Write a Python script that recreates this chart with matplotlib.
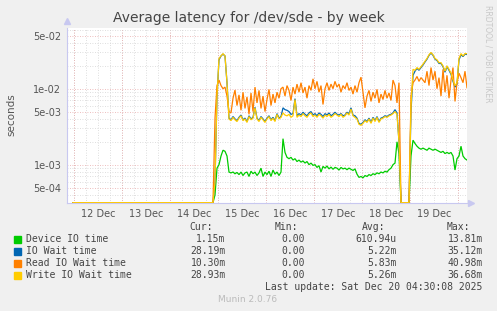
import numpy as np
import pandas as pd
import matplotlib
matplotlib.use('Agg')
from matplotlib import pyplot as plt
import matplotlib.dates as mdates

nan = np.nan

# hourly samples from 2025-12-11 20:30 to 2025-12-20 04:30, values in ms
start = pd.Timestamp('2025-12-11 20:30')
times = pd.date_range(start, periods=201, freq='h')

device_1 = [0.0, 0.4, 0.9, 1.0, 1.3, 1.55, 1.5, 1.3, 0.8, 0.78, 0.8, 0.76, 0.79, 0.74, 0.8, 0.72,
            0.78, 0.8, 0.7, 0.82, 0.76, 0.8, 0.72, 0.78, 0.9, 0.7, 0.8, 0.74, 0.82, 0.7, 0.85, 0.75,
            0.8, 0.72, 0.8, 2.2, 1.45, 1.25, 1.2, 1.25, 1.15, 1.2, 1.1, 1.15, 1.08, 1.12, 1.05, 1.1,
            1.0, 1.05, 0.98, 1.0, 0.92, 0.97, 0.8, 0.95, 0.9, 0.96, 0.88, 0.93, 0.87, 0.92, 0.9, 0.85,
            0.92, 0.88, 0.9, 0.86, 0.9, 0.87, 0.84, 0.88, 0.75, 0.68, 0.7, 0.67, 0.72, 0.7, 0.74, 0.72,
            0.76, 0.74, 0.78, 0.76, 0.8, 0.78, 0.82, 0.8, 0.86, 0.9, 1.0, 1.05, 2.0, 1.4]
iowait_1 = [0.0, 0.6, 8, 24, 27, 28.5, 27, 12, 4.1, 3.9, 4.3, 4.0, 3.8, 4.2, 4.5, 3.9,
            4.1, 3.7, 4.4, 4.0, 4.2, 5.7, 4.1, 3.8, 4.3, 4.0, 3.7, 4.1, 4.4, 3.9, 4.2, 3.8,
            4.7, 4.1, 4.3, 5.6, 5.3, 5.2, 5.0, 4.6, 4.7, 7.4, 4.4, 4.7, 4.5, 4.9, 4.6, 4.4,
            4.8, 5.0, 4.5, 4.7, 4.4, 4.8, 4.6, 4.3, 4.7, 4.5, 4.8, 4.4, 4.6, 4.9, 4.6, 4.5,
            4.7, 4.4, 4.5, 4.9, 4.7, 5.6, 4.5, 4.4, 4.1, 3.5, 3.4, 3.6, 3.9, 3.7, 4.1, 3.6,
            4.2, 3.8, 4.3, 3.7, 4.1, 4.2, 4.4, 4.3, 4.5, 4.6, 4.8, 5.3, 4.8, 2.0]
read_1 = [0.0, 4.1, 11, 13, 11, 10, 10.5, 8, 5, 4.8, 7.5, 9.6, 6, 8.3, 5.2, 9,
          5.5, 7.8, 4.6, 8.8, 5, 10.5, 6.5, 9.5, 5.5, 8, 5, 7.2, 9.8, 6, 8.5, 6.5,
          9, 7.5, 10, 10.5, 8, 11, 9.5, 7, 10.5, 8.5, 11.5, 9, 12, 8.8, 10.5, 7.5,
          11, 9.5, 13.5, 10, 12.5, 9, 11, 6.2, 10, 12, 9.5, 11.5, 10, 12.5, 10.5, 11.5,
          9, 11, 10, 12, 9.5, 10.5, 8.5, 11, 9, 12, 14.2, 9, 5.6, 8, 9.5, 6.8,
          9, 7.5, 9.8, 6.5, 8.5, 7.2, 9.5, 7.5, 8.8, 7, 13, 11, 6.5, 12]
write_1 = [0.0, 0.6, 8, 25, 27, 29, 27, 12, 4.0, 3.8, 4.2, 3.9, 3.7, 4.1, 4.4, 3.8,
           4.0, 3.6, 4.3, 3.9, 4.1, 5.6, 4.0, 3.7, 4.2, 3.9, 3.6, 4.0, 4.3, 3.8, 4.1, 3.7,
           4.6, 4.0, 4.2, 4.8, 4.5, 4.4, 4.6, 4.2, 4.4, 7.2, 4.2, 4.5, 4.3, 4.7, 4.4, 4.2,
           4.6, 4.8, 4.3, 4.5, 4.2, 4.6, 4.4, 4.1, 4.5, 4.3, 4.6, 4.2, 4.4, 4.7, 4.5, 4.3,
           4.6, 4.2, 4.4, 4.8, 4.5, 5.4, 4.4, 4.2, 4.0, 3.4, 3.3, 3.5, 3.8, 3.6, 4.0, 3.5,
           4.1, 3.7, 4.2, 3.6, 4.0, 4.1, 4.3, 4.2, 4.4, 4.5, 4.7, 5.0, 4.6, 2.0]

device_2 = [1.3, 2.1, 1.9, 1.75, 1.65, 1.6, 1.65, 1.6, 1.55, 1.65, 1.6, 1.55, 1.6, 1.55, 1.5,
            1.45, 1.5, 1.4, 1.45, 1.4, 1.45, 1.3, 0.85, 1.2, 1.3, 1.75, 1.3, 1.2, 1.15]
iowait_2 = [5, 15, 17, 18.5, 17.5, 19, 20.5, 22.5, 24.5, 27.5, 29.5, 27.5, 24.5, 23.5, 21.5,
            21.5, 19.5, 16.5, 19.5, 17.5, 15.5, 12.5, 10.5, 11.5, 24, 28, 26.5, 28.5, 28.19]
read_2 = [8, 12, 13, 14.5, 12.5, 14, 13, 12, 17, 11, 19, 13, 17, 10, 14,
          8, 18, 9, 15, 7.5, 13, 19, 6.8, 12, 16, 14, 12, 17, 10.3]
write_2 = [6, 18, 17.5, 19, 18, 19.5, 21, 23, 25, 28, 30, 28, 25, 24, 22,
           22, 20, 17, 20, 18, 16, 13, 11, 12, 25, 29, 27, 29, 28.93]

lead = [nan] * 3 + [0.0] * 70
gap = [0.0] * 5

names = ['Device IO time', 'IO Wait time', 'Read IO Wait time', 'Write IO Wait time']
colors = ['#00CC00', '#0066B3', '#FF8000', '#FFCC00']
series = [lead + device_1 + gap + device_2,
          lead + iowait_1 + gap + iowait_2,
          lead + read_1 + gap + read_2,
          lead + write_1 + gap + write_2]

cur = ['1.15m', '28.19m', '10.30m', '28.93m']
vmin = ['0.00', '0.00', '0.00', '0.00']
avg = ['610.94u', '5.22m', '5.83m', '5.26m']
vmax = ['13.81m', '35.12m', '40.98m', '36.68m']

ymin, ymax = 3.13e-4, 6.3e-2
end = pd.Timestamp('2025-12-20 04:30')

fig = plt.figure(figsize=(4.97, 3.11), dpi=100, facecolor='#F0F0F0')
ax = fig.add_axes([67/497, 108/311, 400/497, 175/311])
ax.set_facecolor('white')

for s, c in zip(series, colors):
    v = np.clip(np.array(s, dtype=float) * 1e-3, ymin * 1.01, None)
    ax.plot(times, v, color=c, lw=0.9, solid_joinstyle='miter')

ax.set_yscale('log')
ax.set_ylim(ymin, ymax)
ax.set_xlim(start, end)

# grid
minor_t = pd.date_range('2025-12-12 00:00', end, freq='6h')
midnights = pd.date_range('2025-12-12 00:00', end, freq='D')
for t in minor_t:
    ax.axvline(t, color='#D4D4D4', lw=0.6, ls=(0, (1, 2)), zorder=0)
for t in midnights:
    ax.axvline(t, color='#E8A8A8', lw=0.6, ls=(0, (1, 2)), zorder=0)
for dec in [1e-4, 1e-3, 1e-2]:
    for m in range(1, 10):
        y = dec * m
        if ymin < y < ymax:
            col = '#E8A8A8' if m in (1, 5) else '#D4D4D4'
            ax.axhline(y, color=col, lw=0.6, ls=(0, (1, 2)), zorder=0)

ax.set_yticks([5e-4, 1e-3, 5e-3, 1e-2, 5e-2])
ax.set_yticklabels(['5e-04', '1e-03', '5e-03', '1e-02', '5e-02'])
ax.yaxis.set_minor_locator(matplotlib.ticker.NullLocator())
noons = pd.date_range('2025-12-12 12:00', '2025-12-19 12:00', freq='D')
ax.set_xticks(noons)
ax.xaxis.set_major_formatter(mdates.DateFormatter('%d %b'))
ax.tick_params(axis='both', length=0, labelsize=7, colors='#555555', pad=4)

for sp in ['top', 'right']:
    ax.spines[sp].set_visible(False)
for sp in ['left', 'bottom']:
    ax.spines[sp].set_color('#C8C8F0')
    ax.spines[sp].set_linewidth(0.8)
ax.plot([0], [1.04], marker='^', ms=4, color='#C8C8F0', transform=ax.transAxes, clip_on=False)
ax.plot([1.01], [0], marker='>', ms=4, color='#C8C8F0', transform=ax.transAxes, clip_on=False)

fig.text(0.5, 1 - 18/311, 'Average latency for /dev/sde - by week', ha='center', va='center',
         fontsize=10, color='#444444')
fig.text(11/497, 1 - 115/311, 'seconds', rotation=90, ha='center', va='center',
         fontsize=7.5, color='#555555')
fig.text(488/497, 1 - 5/311, 'RRDTOOL / TOBI OETIKER', rotation=270, ha='center', va='top',
         fontsize=5.5, color='#C8C8C8')

mono = dict(family='DejaVu Sans Mono', fontsize=7, color='#444444', va='center')
hy = 1 - 227.5/311
fig.text(212.7/497, hy, 'Cur:', ha='right', **mono)
fig.text(298/497, hy, 'Min:', ha='right', **mono)
fig.text(385/497, hy, 'Avg:', ha='right', **mono)
fig.text(470/497, hy, 'Max:', ha='right', **mono)
for i in range(4):
    y = 1 - (239.3 + 12 * i)/311
    fig.patches.append(plt.Rectangle((14/497, y - 3.2/311), 6.5/497, 6.5/311, color=colors[i],
                                     transform=fig.transFigure, figure=fig))
    fig.text(26/497, y, names[i], ha='left', **mono)
    fig.text(225.7/497, y, cur[i], ha='right', **mono)
    fig.text(305/497, y, vmin[i], ha='right', **mono)
    fig.text(397/497, y, avg[i], ha='right', **mono)
    fig.text(482.7/497, y, vmax[i], ha='right', **mono)
fig.text(482.7/497, 1 - 287.3/311, 'Last update: Sat Dec 20 04:30:08 2025', ha='right', **mono)
fig.text(248/497, 1 - 300/311, 'Munin 2.0.76', ha='center', va='center', fontsize=6.5,
         color='#BBBBBB')

fig.savefig('out.png', dpi=100, facecolor=fig.get_facecolor())
